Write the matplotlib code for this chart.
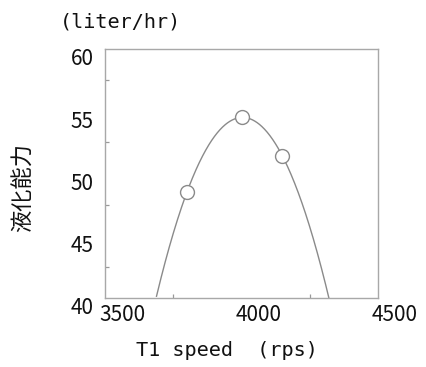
import numpy as np
import matplotlib
matplotlib.use("Agg")
import matplotlib.pyplot as plt
from matplotlib.transforms import ScaledTranslation

# data
speed = [3800, 4000, 4150]          # rps
capacity = [48.5, 54.5, 51.4]       # liter/hr
x_ticks = [3500, 4000, 4500]
y_ticks = [40, 45, 50, 55, 60]

fig = plt.figure(figsize=(4.27, 3.67), dpi=100)
ax = fig.add_axes([105/427, 69/367, 273/427, 249/367])

# quadratic fit curve through the measured points
coef = np.polyfit(speed, capacity, 2)
xs = np.linspace(3500, 4500, 600)
ys = np.polyval(coef, xs)
mask = ys >= 40
ax.plot(xs[mask], ys[mask], color="#8a8a8a", lw=1.0, zorder=2)
ax.plot(speed, capacity, "o", ms=10, mfc="white", mec="#8a8a8a", mew=1.0, zorder=3)

ax.set_xlim(3500, 4500)
ax.set_ylim(40, 60)
for s in ax.spines.values():
    s.set_color("#a8a8a8")
    s.set_linewidth(1.0)

num_font = dict(family=["Noto Sans CJK JP", "DejaVu Sans"], size=15)
ax.set_xticks(x_ticks)
ax.set_xticklabels([str(v) for v in x_ticks], **num_font, color="#111111")
ax.set_yticks(y_ticks)
ax.set_yticklabels([str(v) for v in y_ticks], **num_font, color="#111111")
ax.set_xticks(np.arange(3500, 4501, 250), minor=True)
ax.set_yticks(np.arange(40, 60.1, 2.5), minor=True)
ax.tick_params(which="major", length=0, pad=4)
ax.tick_params(axis="y", which="major", pad=8)
ax.tick_params(which="minor", direction="in", length=3, color="#999999", width=0.9)

for lab in ax.get_xticklabels():
    lab.set_ha("left")
    lab.set_transform(lab.get_transform() + ScaledTranslation(-6/100, 0, fig.dpi_scale_trans))
for lab in ax.get_yticklabels():
    lab.set_transform(lab.get_transform() + ScaledTranslation(0, -8/100, fig.dpi_scale_trans))

mono = dict(family=["DejaVu Sans Mono"], size=14.5, color="#111111")
fig.text(121/427, 1 - 22/367, "(liter/hr)", ha="center", va="center", **mono)
fig.text(227/427, 1 - 350/367, "T1 speed  (rps)", ha="center", va="center", **mono)
fig.text(23/427, 1 - 188/367, "液化能力", rotation=90, ha="center", va="center",
         family=["Noto Sans CJK JP", "DejaVu Sans"], size=16, color="#111111")

fig.savefig("out.png", dpi=100)
